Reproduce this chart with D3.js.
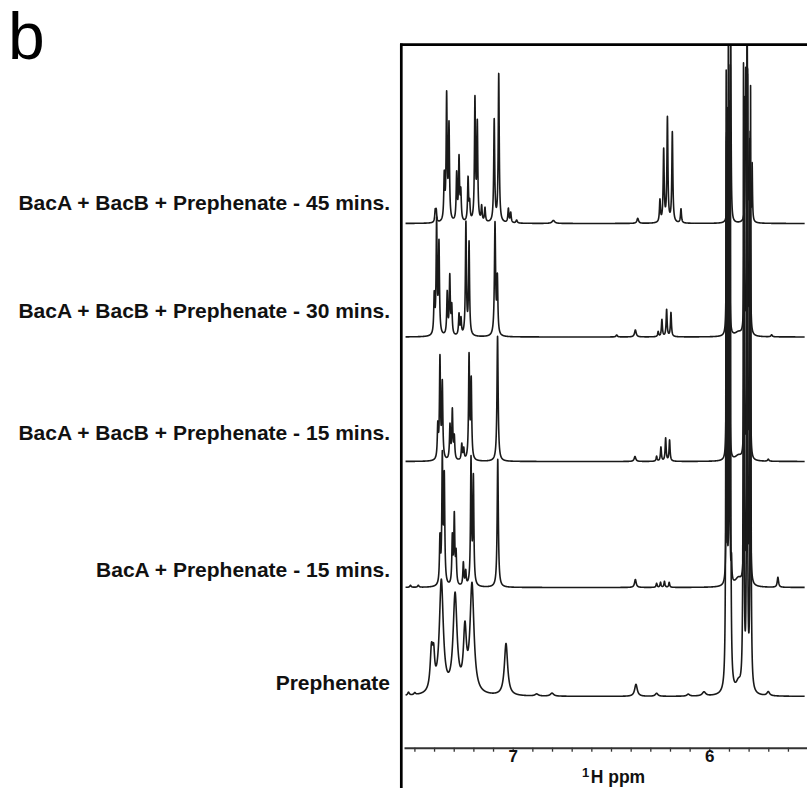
<!DOCTYPE html>
<html>
<head>
<meta charset="utf-8">
<script src="https://cdn.jsdelivr.net/npm/d3@7"></script>
<style>
  body { margin: 0; background: #fff; }
  text { font-family: "Liberation Sans", Arial, sans-serif; }
</style>
</head>
<body>
<div id="plot"></div>
<script>
// Trace names, top to bottom
const traceNames = [
  "BacA + BacB + Prephenate - 45 mins.",
  "BacA + BacB + Prephenate - 30 mins.",
  "BacA + BacB + Prephenate - 15 mins.",
  "BacA + Prephenate - 15 mins.",
  "Prephenate"
];

// vertical stacking offset of each trace (intensity units)
const traceOffsets = [473, 359.5, 235, 109, 0];

// peak lists: [ppm, intensity, half width (ppm)]
const peaks45 = [
  [7.394, 11, .003], [7.389, 11, .003],
  [7.348, 44, .003], [7.336, 124, .003], [7.324, 94, .003],
  [7.285, 47, .003], [7.273, 62, .003], [7.264, 28, .003],
  [7.227, 43, .003], [7.219, 17, .003],
  [7.192, 121, .003], [7.180, 96, .003],
  [7.158, 15, .003], [7.141, 14, .003],
  [7.094, 102, .003], [7.071, 148, .003],
  [7.022, 14, .003], [7.010, 10, .003], [6.980, 3, .004],
  [6.793, 3, .008], [6.364, 5, .005],
  [6.251, 22, .003], [6.232, 72, .003], [6.213, 104, .003], [6.188, 90, .003],
  [6.144, 14, .003],
  [5.906, 112, .002], [5.891, 210, .002],
  [5.815, 145, .002], [5.807, 172, .002], [5.794, 78, .002], [5.782, 57, .002]
];
const peaks30 = [
  [7.399, 38, .003], [7.387, 112, .003], [7.375, 90, .003],
  [7.333, 42, .003], [7.320, 58, .003], [7.310, 28, .003],
  [7.273, 21, .003], [7.263, 16, .003],
  [7.238, 112, .003], [7.222, 92, .003],
  [7.090, 112, .0035], [7.078, 55, .003],
  [6.471, 2, .004], [6.376, 7, .005],
  [6.260, 5, .003], [6.241, 17, .003], [6.217, 27, .003], [6.195, 24, .003],
  [5.912, 200, .0018], [5.898, 232, .0018],
  [5.852, 4, .02],
  [5.822, 235, .0018], [5.806, 262, .0018], [5.792, 200, .0018],
  [5.683, 2, .004]
];
const peaks15 = [
  [7.381, 32, .003], [7.370, 100, .003], [7.358, 75, .003],
  [7.319, 34, .003], [7.307, 49, .003], [7.297, 22, .003],
  [7.259, 16, .003], [7.249, 11, .003],
  [7.222, 103, .003], [7.211, 78, .003],
  [7.077, 125, .0035],
  [6.378, 5, .005],
  [6.268, 5, .003], [6.246, 14, .003], [6.222, 23, .003], [6.202, 21, .003],
  [5.912, 320, .0015], [5.898, 350, .0015],
  [5.852, 5, .02],
  [5.822, 350, .0015], [5.806, 380, .0015], [5.792, 300, .0015],
  [5.700, 2, .004]
];
const peaksBacA = [
  [7.520, 2, .004], [7.480, 2, .004],
  [7.370, 45, .003], [7.358, 125, .003], [7.348, 105, .003],
  [7.307, 47, .003], [7.297, 68, .003], [7.288, 30, .003],
  [7.251, 23, .003], [7.239, 14, .003],
  [7.212, 125, .003], [7.200, 106, .003],
  [7.076, 128, .0035],
  [6.376, 8, .005],
  [6.268, 4, .003], [6.248, 5, .003], [6.228, 6, .003], [6.204, 5, .003],
  [5.912, 440, .0015], [5.898, 478, .0015], [5.887, 22, .002],
  [5.852, 8, .02],
  [5.822, 470, .0015], [5.806, 508, .0015], [5.792, 420, .0015],
  [5.651, 10, .004]
];
const peaksPre = [
  [7.530, 3, .005], [7.498, 2, .005],
  [7.413, 40, .008], [7.402, 28, .006],
  [7.363, 112, .012], [7.293, 97, .012], [7.243, 58, .009], [7.207, 108, .012],
  [7.034, 52, .01],
  [6.878, 2, .01], [6.800, 3, .01],
  [6.373, 12, .008], [6.268, 3, .008], [6.107, 2, .008], [6.027, 4, .01],
  [5.914, 600, .002], [5.903, 620, .002], [5.893, 600, .002],
  [5.852, 10, .015],
  [5.826, 620, .002], [5.808, 650, .002], [5.790, 600, .002],
  [5.700, 4, .008]
];
const tracePeaks = [peaks45, peaks30, peaks15, peaksBacA, peaksPre];

// axis ticks (ppm)
const ppmTicks = [7.5, 7.4, 7.3, 7.2, 7.1, 7.0, 6.9, 6.8, 6.7, 6.6, 6.5, 6.4,
                  6.3, 6.2, 6.1, 6.0, 5.9, 5.8, 5.7, 5.6];
const ppmLabels = [7, 6];

const w = 807;
const h = 788;
const frameLeft = 401.3;
const frameTop = 44.7;
const axisY = 747.7;
const labelX = 390;
const labelY = [210, 318, 440, 577, 690];

const svg = d3.select("div#plot")
  .append("svg")
    .attr("width", w)
    .attr("height", h);

svg.append("rect")
  .attr("width", w)
  .attr("height", h)
  .attr("fill", "#fff");

// scales: ppm runs right to left
const xScale = d3.scaleLinear()
  .domain([7.5529, 5.503])
  .range([404, 807]);

const yScale = d3.scaleLinear()
  .domain([0, 651.5])
  .range([696.5, 45]);

// build spectrum from peak list
function spectrum(peaks) {
  const pts = [];
  for (let i = 0; ; i++) {
    const p = 7.545 - i * 0.0002;
    if (p < 5.515) break;
    let v = 0;
    peaks.forEach(pk => {
      const u = (p - pk[0]) / pk[2];
      v += pk[1] / (1 + u * u);
    });
    pts.push([p, v]);
  }
  return pts;
}

svg.append("clipPath")
  .attr("id", "frameclip")
  .append("rect")
    .attr("x", frameLeft + 1.2)
    .attr("y", frameTop + 1.2)
    .attr("width", w - frameLeft)
    .attr("height", axisY - frameTop - 4);

const traces = svg.append("g")
  .attr("clip-path", "url(#frameclip)");

tracePeaks.forEach((peaks, i) => {
  const line = d3.line()
    .x(d => xScale(d[0]))
    .y(d => yScale(d[1] + traceOffsets[i]));
  traces.append("path")
    .datum(spectrum(peaks))
    .attr("d", line)
    .attr("fill", "none")
    .attr("stroke", "#1a1a1a")
    .attr("stroke-width", 1.6)
    .attr("stroke-linejoin", "round");
});

// frame: left and top lines
svg.append("line")
  .attr("x1", frameLeft).attr("x2", frameLeft)
  .attr("y1", frameTop - 1.3).attr("y2", h)
  .attr("stroke", "#000")
  .attr("stroke-width", 2.7);
svg.append("line")
  .attr("x1", frameLeft - 1.3).attr("x2", w)
  .attr("y1", frameTop).attr("y2", frameTop)
  .attr("stroke", "#000")
  .attr("stroke-width", 2.7);

// ppm axis
const xAxis = d3.axisBottom(xScale)
  .tickValues(ppmTicks)
  .tickSize(4)
  .tickSizeOuter(0)
  .tickFormat(d => ppmLabels.some(l => Math.abs(l - d) < 1e-6) ? d3.format("d")(d) : "");

const ax = svg.append("g")
  .attr("transform", `translate(0, ${axisY})`)
  .call(xAxis);
ax.select(".domain")
  .attr("stroke", "#333")
  .attr("stroke-width", 2);
ax.selectAll(".tick line")
  .attr("stroke", "#333")
  .attr("stroke-width", 1.3);
ax.selectAll(".tick text")
  .attr("y", 2)
  .attr("fill", "#111")
  .style("font-size", "17px")
  .style("font-weight", "bold");

// axis title: 1H ppm
const title = svg.append("text")
  .attr("x", 582)
  .attr("y", 783)
  .attr("fill", "#111")
  .style("font-weight", "bold");
title.append("tspan")
  .attr("dy", -6)
  .style("font-size", "13px")
  .text("1");
title.append("tspan")
  .attr("dy", 6)
  .attr("dx", 1.5)
  .style("font-size", "17.5px")
  .text("H ppm");

// trace labels
svg.selectAll("text.lab")
  .data(traceNames)
  .enter()
  .append("text")
    .attr("class", "lab")
    .attr("x", labelX)
    .attr("y", (d, i) => labelY[i])
    .attr("text-anchor", "end")
    .attr("fill", "#111")
    .style("font-size", "21px")
    .style("font-weight", "bold")
    .text(d => d);

// panel letter
svg.append("text")
  .attr("x", 8)
  .attr("y", 59)
  .attr("fill", "#000")
  .style("font-size", "66px")
  .text("b");
</script>
</body>
</html>
